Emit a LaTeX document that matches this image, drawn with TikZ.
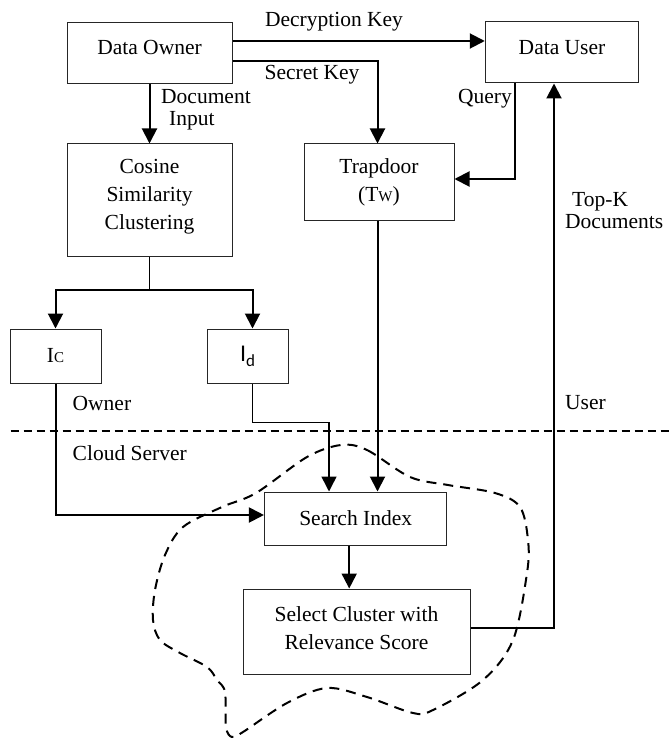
\documentclass[tikz,border=0pt]{standalone}
\usepackage{fontspec}
\setmainfont{Liberation Serif}
\newfontfamily\calibrifont{Carlito}
\usetikzlibrary{arrows.meta}
\begin{document}
\begin{tikzpicture}[x=1pt,y=-1pt,
  font=\fontsize{21.5}{28}\selectfont,
  box/.style={draw=black!85,line width=1pt,align=center,inner sep=2pt},
  txt/.style={inner sep=0pt,align=center},
  arr/.style={line width=2pt,-{Triangle[length=15pt,width=15pt]}},
  lbl/.style={inner sep=0pt,align=left,font=\fontsize{21.5}{22}\selectfont}]
\useasboundingbox (0,0) rectangle (669,738);
% boxes
\node[box,minimum width=165pt,minimum height=61pt] (owner) at (149.5,53.5) {};
\node[txt] (ownerT) at ([yshift=6pt]owner.center) {Data Owner};
\node[box,minimum width=153.5pt,minimum height=61pt] (user) at (562,52.5) {};
\node[txt] (userT) at ([yshift=5pt]user.center) {Data User};
\node[box,minimum width=165pt,minimum height=112pt] (cosine) at (149.5,200) {};
\node[txt] (cosineT) at ([yshift=3pt]cosine.center) {Cosine\\Similarity\\Clustering};
\node[box,minimum width=150pt,minimum height=76pt] (trap) at (379,182) {Trapdoor\\(T{\fontsize{15}{15}\selectfont W})};
\node[box,minimum width=91pt,minimum height=54pt] (ic) at (55.5,356) {I{\fontsize{15}{15}\selectfont C}};
\node[box,minimum width=81pt,minimum height=54pt] (id) at (247.5,356) {{\calibrifont\fontsize{24}{24}\selectfont I\raisebox{-5pt}{\fontsize{17}{17}\selectfont d}}};
\node[box,minimum width=182.5pt,minimum height=53pt] (search) at (355.7,518.5) {Search Index};
\node[box,minimum width=227pt,minimum height=85pt] (select) at (356.5,631.5) {};
\node[txt] (selectT) at ([yshift=3pt]select.center) {Select Cluster with\\Relevance Score};
% labels
\node[lbl] (ldec) at (334,22) {Decryption Key};
\node[lbl] (lsec) at (312,75) {Secret Key};
\node[lbl,anchor=west] (ldoc) at (161,110) {Document\\\hspace*{8pt}Input};
\node[lbl,anchor=east] (lq) at (512,99) {Query};
\node[lbl,anchor=west] (ltop) at (565,211) {\hspace*{7pt}Top-K\\Documents};
\node[lbl,anchor=west] (lown) at (72.5,403) {Owner};
\node[lbl,anchor=west] (lcs) at (72.5,453) {Cloud Server};
\node[lbl,anchor=west] (lusr) at (565,403) {User};
% separator
\coordinate (sepL) at (10.7,431);
\coordinate (sepR) at (669,431);
\draw[line width=1.5pt,dash pattern=on 8pt off 5pt] (sepL) -- (sepR);
% connectors
\draw[arr] (owner.east|-0,41) -- (user.west|-0,41);
\draw[arr] (owner.east|-0,61.5) -| ([xshift=-1.5pt]trap.north);
\draw[arr] (owner.south) -- (cosine.north);
\draw[arr] (user.south-|515,0) |- (trap.east|-0,179);
\coordinate (split) at (149.5,290);
\draw[line width=1.4pt] (cosine.south) -- (split);
\draw[arr] (split) -| (ic.north);
\draw[arr] (split) -| ([xshift=5pt]id.north);
\draw[arr] (ic.south) |- (search.west|-0,515);
\draw[arr,line width=1.5pt] ([xshift=5pt]id.south) |- (329,422.5) -- (search.north-|329,0);
\draw[arr] ([xshift=-1.5pt]trap.south) -- ([xshift=-1.5pt]trap.south|-search.north);
\draw[arr] ([xshift=-6.5pt]search.south) -- ([xshift=-6.5pt]search.south|-select.north);
\draw[arr] (select.east|-0,628) -| (user.south-|554,0);
% cloud region
\draw[line width=2pt,dash pattern=on 10pt off 7pt] plot[smooth cycle,tension=0.55] coordinates {
(341,445) (367,450) (410,477) (448,485) (495,493) (520,507) (528,540) (527,573)
(513,640) (483,680) (433,710) (413,713) (367,697) (327,688) (287,703) (243,732)
(232,737) (226,727) (225,692) (217,680) (207,667) (180,653) (160,640) (153,620)
(155,590) (165,555) (183,527) (222,507) (256,493) (307,457)};
\end{tikzpicture}
\end{document}
